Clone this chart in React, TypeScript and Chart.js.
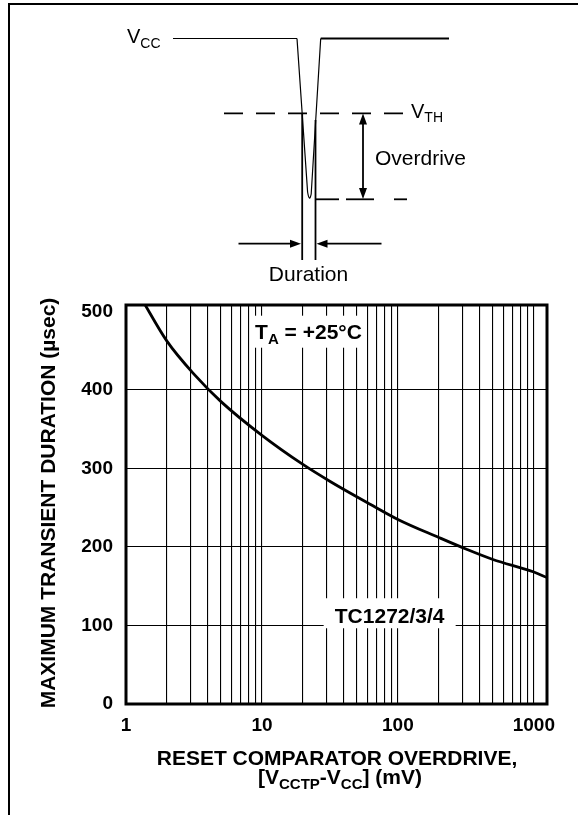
import React, { useEffect, useRef } from 'react';
import { Chart, registerables } from 'chart.js';

Chart.register(...registerables);

const FONT = '"Liberation Sans", Arial, Helvetica, sans-serif';

// Curve: maximum transient duration (µs) vs reset comparator overdrive (mV)
const overdriveMv = [1.3, 2, 3.2, 5, 10, 20, 32, 63, 100, 200, 320, 500, 1000, 1250];
const durationUs = [516, 462, 419, 385, 342, 305, 283, 254, 235, 212, 197, 184, 168, 161];

// Axis grid / ticks
const xGridValues = [1, 2, 3, 4, 5, 6, 7, 8, 9, 10, 20, 30, 40, 50, 60, 70, 80, 90, 100, 200, 300, 400, 500, 600, 700, 800, 900, 1000];
const xLabelledValues = [1, 10, 100, 1000];
const yTickValues = [0, 100, 200, 300, 400, 500];

// Texts
const yTitle = 'MAXIMUM TRANSIENT DURATION (µsec)';
const xTitleLine1 = 'RESET COMPARATOR OVERDRIVE,';
const seriesLabel = 'TC1272/3/4';

type Part = { t: string; sub?: boolean };

function partsWidth(ctx: CanvasRenderingContext2D, parts: Part[], size: number, weight: string) {
  let w = 0;
  for (const p of parts) {
    ctx.font = `${weight} ${p.sub ? Math.round(size * 0.72) : size}px ${FONT}`;
    w += ctx.measureText(p.t).width;
  }
  return w;
}

function drawParts(
  ctx: CanvasRenderingContext2D,
  parts: Part[],
  x: number,
  baseline: number,
  size: number,
  weight: string,
  align: 'left' | 'center'
) {
  const total = partsWidth(ctx, parts, size, weight);
  let cx = align === 'center' ? x - total / 2 : x;
  ctx.textAlign = 'left';
  ctx.textBaseline = 'alphabetic';
  for (const p of parts) {
    ctx.font = `${weight} ${p.sub ? Math.round(size * 0.72) : size}px ${FONT}`;
    ctx.fillText(p.t, cx, p.sub ? baseline + size * 0.24 : baseline);
    cx += ctx.measureText(p.t).width;
  }
  return total;
}

function line(ctx: CanvasRenderingContext2D, x1: number, y1: number, x2: number, y2: number) {
  ctx.beginPath();
  ctx.moveTo(x1, y1);
  ctx.lineTo(x2, y2);
  ctx.stroke();
}

function head(ctx: CanvasRenderingContext2D, tx: number, ty: number, dir: 'up' | 'down' | 'left' | 'right') {
  const len = 11;
  const hw = 4;
  ctx.beginPath();
  ctx.moveTo(tx, ty);
  if (dir === 'up') { ctx.lineTo(tx - hw, ty + len); ctx.lineTo(tx + hw, ty + len); }
  if (dir === 'down') { ctx.lineTo(tx - hw, ty - len); ctx.lineTo(tx + hw, ty - len); }
  if (dir === 'left') { ctx.lineTo(tx + len, ty - hw); ctx.lineTo(tx + len, ty + hw); }
  if (dir === 'right') { ctx.lineTo(tx - len, ty - hw); ctx.lineTo(tx - len, ty + hw); }
  ctx.closePath();
  ctx.fill();
}

function drawSchematic(ctx: CanvasRenderingContext2D) {
  ctx.save();
  ctx.strokeStyle = '#000';
  ctx.fillStyle = '#000';
  ctx.lineCap = 'butt';

  // Vcc level and the negative transient pulse
  ctx.lineWidth = 1.2;
  line(ctx, 173, 38.5, 297, 38.5);
  ctx.beginPath();
  ctx.moveTo(297, 38.5);
  ctx.lineTo(307.6, 192);
  ctx.quadraticCurveTo(309.4, 203, 311.2, 194);
  ctx.lineTo(320.7, 38.5);
  ctx.stroke();
  ctx.lineWidth = 1.8;
  line(ctx, 320.7, 38.5, 449, 38.5);

  // duration markers
  ctx.lineWidth = 1.8;
  line(ctx, 302.2, 113, 302.2, 260);
  line(ctx, 315.5, 120, 315.5, 260);

  // V_TH dashed line
  ctx.lineWidth = 1.8;
  ctx.setLineDash([19, 13]);
  line(ctx, 224, 113.3, 404, 113.3);
  ctx.setLineDash([]);

  // overdrive level dashes
  line(ctx, 316, 199.3, 339, 199.3);
  line(ctx, 346, 199.3, 374, 199.3);
  line(ctx, 394, 199.3, 407, 199.3);

  // Overdrive arrow
  line(ctx, 363, 122, 363, 190);
  head(ctx, 363, 113.5, 'up');
  head(ctx, 363, 199, 'down');

  // Duration arrows
  line(ctx, 238.5, 243.7, 292, 243.7);
  head(ctx, 301, 243.7, 'right');
  line(ctx, 325, 243.7, 381.5, 243.7);
  head(ctx, 316.5, 243.7, 'left');

  // labels
  drawParts(ctx, [{ t: 'V' }, { t: 'CC', sub: true }], 127, 43, 20, 'normal', 'left');
  drawParts(ctx, [{ t: 'V' }, { t: 'TH', sub: true }], 411, 117.5, 20, 'normal', 'left');
  ctx.font = `normal 21px ${FONT}`;
  ctx.textAlign = 'left';
  ctx.textBaseline = 'alphabetic';
  ctx.fillText('Overdrive', 375, 164.5);
  ctx.textAlign = 'center';
  ctx.fillText('Duration', 308.5, 281);
  ctx.restore();
}

const decorPlugin = {
  id: 'decor',
  beforeDatasetsDraw(chart: any) {
    const ctx: CanvasRenderingContext2D = chart.ctx;
    const xs = chart.scales.x;
    const ys = chart.scales.y;
    ctx.save();
    ctx.fillStyle = '#fff';
    // label boxes that interrupt the grid
    const tX = xs.getPixelForValue(22);
    const tY = ys.getPixelForValue(474);
    ctx.fillRect(tX - 57, tY - 16, 114, 32);
    const sX = xs.getPixelForValue(87);
    const sY = ys.getPixelForValue(113);
    ctx.fillRect(sX - 66, sY - 17, 132, 30);
    ctx.restore();
  },
  afterDraw(chart: any) {
    const ctx: CanvasRenderingContext2D = chart.ctx;
    const a = chart.chartArea;
    const xs = chart.scales.x;
    const ys = chart.scales.y;
    ctx.save();
    ctx.fillStyle = '#000';
    ctx.strokeStyle = '#000';

    // plot frame
    ctx.lineWidth = 3;
    ctx.strokeRect(a.left, a.top, a.right - a.left, a.bottom - a.top);

    // figure frame
    ctx.lineWidth = 2;
    ctx.beginPath();
    ctx.moveTo(9, 815);
    ctx.lineTo(9, 4);
    ctx.lineTo(578, 4);
    ctx.stroke();

    // annotations inside the plot
    drawParts(
      ctx,
      [{ t: 'T' }, { t: 'A', sub: true }, { t: ' = +25°C' }],
      xs.getPixelForValue(22),
      ys.getPixelForValue(474) + 7.5,
      21,
      'bold',
      'center'
    );
    ctx.font = `bold 21px ${FONT}`;
    ctx.textAlign = 'center';
    ctx.textBaseline = 'alphabetic';
    ctx.fillText(seriesLabel, xs.getPixelForValue(87), ys.getPixelForValue(113) + 7.5);

    // y title
    ctx.save();
    ctx.translate(47, 503);
    ctx.rotate(-Math.PI / 2);
    ctx.font = `bold 21px ${FONT}`;
    ctx.textAlign = 'center';
    ctx.textBaseline = 'alphabetic';
    ctx.fillText(yTitle, 0, 7.5);
    ctx.restore();

    // x title
    ctx.font = `bold 21px ${FONT}`;
    ctx.textAlign = 'center';
    ctx.fillText(xTitleLine1, 337, 765);
    drawParts(
      ctx,
      [{ t: '[V' }, { t: 'CCTP', sub: true }, { t: '-V' }, { t: 'CC', sub: true }, { t: '] (mV)' }],
      340,
      784,
      21,
      'bold',
      'center'
    );

    drawSchematic(ctx);
    ctx.restore();
  },
};

export default function App() {
  const ref = useRef<HTMLCanvasElement | null>(null);

  useEffect(() => {
    if (!ref.current) return;
    const chart = new Chart(ref.current, {
      type: 'line',
      data: {
        datasets: [
          {
            label: seriesLabel,
            data: overdriveMv.map((x, i) => ({ x, y: durationUs[i] })),
            borderColor: '#000',
            borderWidth: 2.8,
            pointRadius: 0,
            fill: false,
            cubicInterpolationMode: 'monotone',
          },
        ],
      },
      options: {
        responsive: false,
        animation: false,
        layout: { padding: { left: 0, top: 305, right: 31, bottom: 0 } },
        plugins: { legend: { display: false }, tooltip: { enabled: false } },
        scales: {
          x: {
            type: 'logarithmic',
            min: 1,
            max: 1250,
            afterBuildTicks: (s: any) => {
              s.ticks = xGridValues.map((v) => ({ value: v }));
            },
            afterFit: (s: any) => {
              s.height = 111;
            },
            border: { display: false },
            grid: {
              color: '#000',
              lineWidth: 1.1,
              drawTicks: false,
            },
            ticks: {
              autoSkip: false,
              maxRotation: 0,
              minRotation: 0,
              padding: 10,
              color: '#000',
              font: { family: FONT, size: 19, weight: 'bold' },
              callback: (v: any) => (xLabelledValues.includes(Number(v)) ? String(v) : ''),
            },
          },
          y: {
            type: 'linear',
            min: 0,
            max: 508,
            afterBuildTicks: (s: any) => {
              s.ticks = yTickValues.map((v) => ({ value: v }));
            },
            afterFit: (s: any) => {
              s.width = 126;
            },
            border: { display: false },
            grid: {
              color: (c: any) => (c.tick && (c.tick.value === 500 || c.tick.value === 0) ? 'rgba(0,0,0,0)' : '#000'),
              lineWidth: 1.1,
              drawTicks: false,
            },
            ticks: {
              padding: 13,
              color: '#000',
              font: { family: FONT, size: 19, weight: 'bold' },
              callback: (v: any) => String(v),
            },
          },
        },
      },
      plugins: [decorPlugin],
    } as any);
    return () => chart.destroy();
  }, []);

  return (
    <div style={{ position: 'absolute', left: 0, top: 0, width: 578, height: 815, background: '#fff' }}>
      <canvas ref={ref} width={578} height={815} style={{ width: 578, height: 815, display: 'block' }} />
    </div>
  );
}
